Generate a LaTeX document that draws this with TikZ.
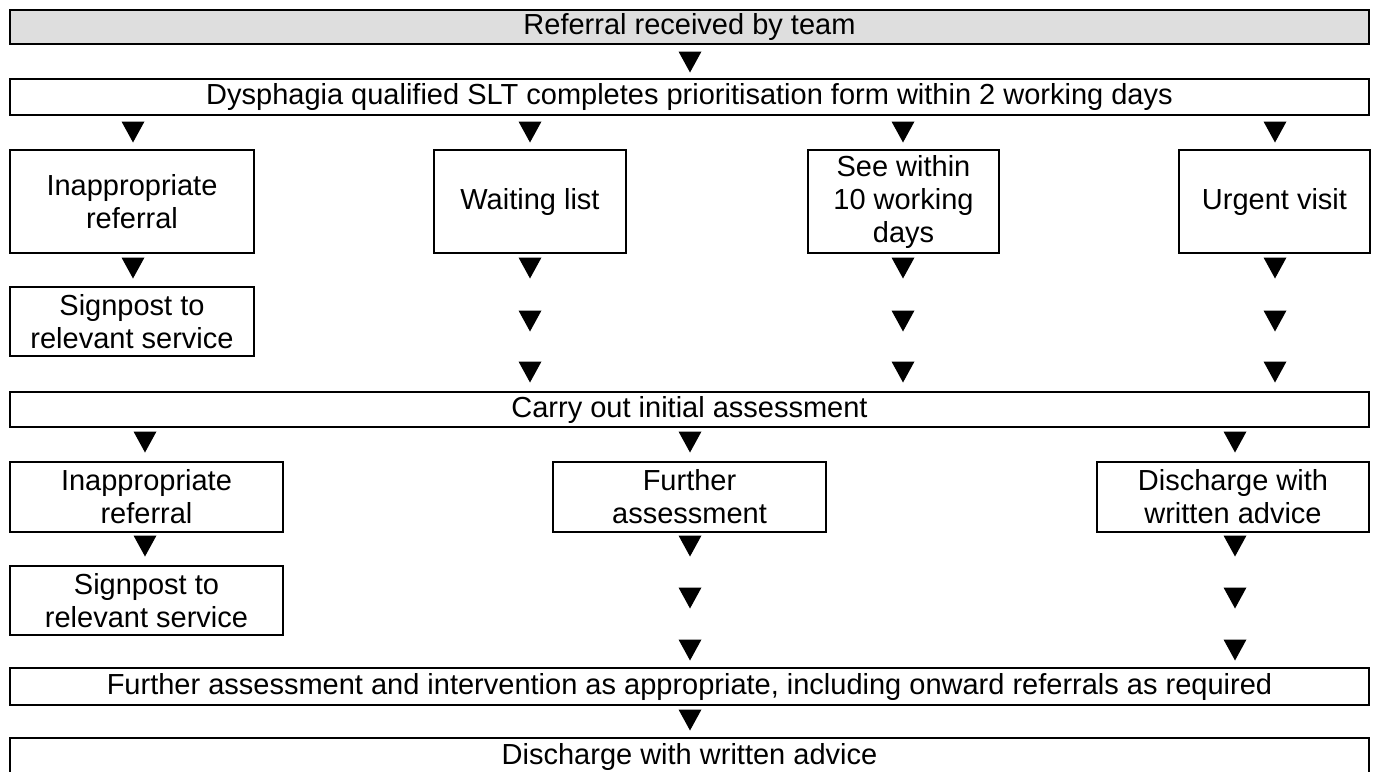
\documentclass[tikz,border=0pt]{standalone}
\usepackage{fontspec}
\setmainfont{Liberation Sans}
\definecolor{headgrey}{RGB}{222,222,222}
\begin{document}
\begin{tikzpicture}[x=1pt,y=-1pt,
  box/.style={draw=black, line width=2.2pt, inner sep=0pt, align=center,
    font=\fontsize{29}{33}\selectfont},
  headbox/.style={box, fill=headgrey},
  arrowtri/.pic={\fill[black] (-11.5,-10.5) -- (11.5,-10.5) -- (0,10.5) -- cycle;}]
\useasboundingbox (0,0) rectangle (1376,771);
% boxes
\node[headbox, minimum width=1359pt, minimum height=34pt] (b1) at (689.5,27) {Referral received by team};
\node[box, minimum width=1359pt, minimum height=36pt] (b2) at (689.5,97) {Dysphagia qualified SLT completes prioritisation form within 2 working days};
\node[box, minimum width=244pt, minimum height=103pt] (r3a) at (132,201.5) {Inappropriate\\referral};
\node[box, minimum width=192pt, minimum height=103pt] (r3b) at (530,201.5) {Waiting list};
\node[box, minimum width=191pt, minimum height=103pt] (r3c) at (903.5,201.5) {See within\\10 working\\days};
\node[box, minimum width=191pt, minimum height=103pt] (r3d) at (1274.5,201.5) {Urgent visit};
\node[box, minimum width=244pt, minimum height=69pt] (s1) at (132,321.5) {Signpost to\\relevant service};
\node[box, minimum width=1359pt, minimum height=35pt] (c) at (689.5,409.5) {Carry out initial assessment};
\node[box, minimum width=273pt, minimum height=70pt] (r5a) at (146.5,497) {Inappropriate\\referral};
\node[box, minimum width=273pt, minimum height=70pt] (r5b) at (689.5,497) {Further\\assessment};
\node[box, minimum width=272pt, minimum height=70pt] (r5c) at (1233,497) {Discharge with\\written advice};
\node[box, minimum width=273pt, minimum height=69pt] (s2) at (146.5,600.5) {Signpost to\\relevant service};
\node[box, minimum width=1359pt, minimum height=37pt] (f) at (689.5,686.5) {Further assessment and intervention as appropriate, including onward referrals as required};
\node[box, minimum width=1359pt, minimum height=38pt] (d) at (689.5,757) {Discharge with written advice};
% triangles
\pic at (690,62) {arrowtri};
\foreach \x in {133,530,903,1275} {\pic at (\x,132) {arrowtri}; \pic at (\x,268) {arrowtri};}
\foreach \x in {530,903,1275} {\pic at (\x,321) {arrowtri}; \pic at (\x,372) {arrowtri};}
\foreach \x in {145,690,1235} {\pic at (\x,442) {arrowtri}; \pic at (\x,546) {arrowtri};}
\foreach \x in {690,1235} {\pic at (\x,598) {arrowtri}; \pic at (\x,650) {arrowtri};}
\pic at (690,720) {arrowtri};
\end{tikzpicture}
\end{document}
